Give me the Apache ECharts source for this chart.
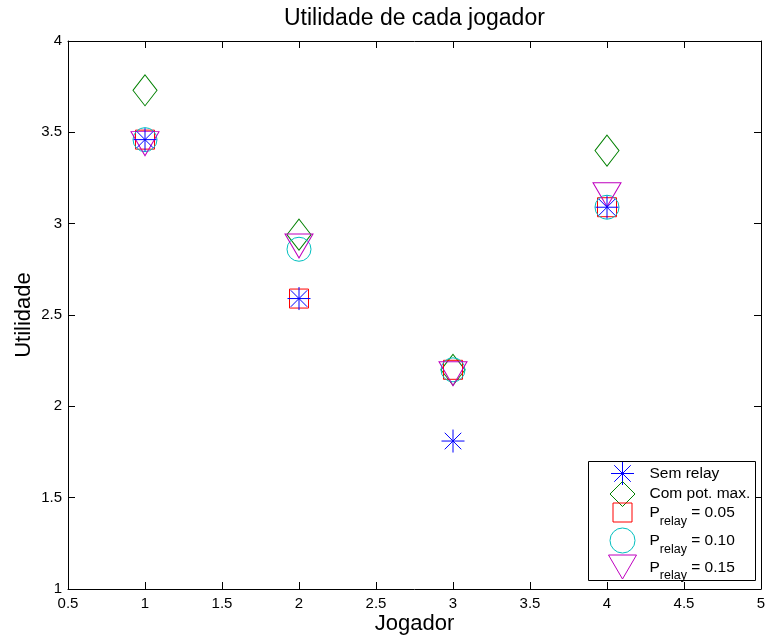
<!DOCTYPE html>
<html>
<head>
<meta charset="utf-8">
<script src="https://cdn.jsdelivr.net/npm/echarts@6/dist/echarts.min.js"></script>
<style>
  html, body { margin: 0; padding: 0; background: #fff; }
  #chart { width: 765px; height: 638px; }
</style>
</head>
<body>
<div id="chart"></div>
<script>
// Utilidade de cada jogador (players 1-4) under each power/relay scheme
const jogadores = [1, 2, 3, 4];
const semRelay  = [3.46, 2.59, 1.81, 3.09];
const comPotMax = [3.73, 2.94, 2.20, 3.40];
const pRelay005 = [3.46, 2.59, 2.20, 3.09];
const pRelay010 = [3.46, 2.86, 2.20, 3.09];
const pRelay015 = [3.46, 2.90, 2.20, 3.18];

const seriesNames = ['Sem relay', 'Com pot. max.', 'P_relay = 0.05', 'P_relay = 0.10', 'P_relay = 0.15'];
const xRange = [0.5, 5];
const yRange = [1, 4];
const tickStep = 0.5;

const FONT = '"Liberation Sans", Arial, Helvetica, sans-serif';

// marker shapes (outline only)
const ASTERISK = 'path://M0,-1L0,1M-1,0L1,0M-0.72,-0.72L0.72,0.72M-0.72,0.72L0.72,-0.72';
const DIAMOND  = 'path://M12,0L24,15.5L12,31L0,15.5Z';
const SQUARE   = 'path://M0,0L1,0L1,1L0,1Z';
const TRI_DOWN = 'path://M0,0L28,0L14,24Z';

function toPoints(values) {
  return jogadores.map((j, i) => [j, values[i]]);
}

function markerSeries(name, values, symbol, size, color, extra) {
  return Object.assign({
    name: name,
    type: 'scatter',
    data: toPoints(values),
    symbol: symbol,
    symbolSize: size,
    itemStyle: { color: 'transparent', borderColor: color, borderWidth: 1, opacity: 1 },
    emphasis: { disabled: true },
    silent: true
  }, extra || {});
}

const series = [
  markerSeries(seriesNames[1], comPotMax, DIAMOND, [24, 31], '#008000', { z: 2 }),
  markerSeries(seriesNames[2], pRelay005, SQUARE, 19, '#ff0000', { z: 3 }),
  markerSeries(seriesNames[3], pRelay010, 'circle', 24, '#00bfbf', { z: 4 }),
  markerSeries(seriesNames[4], pRelay015, TRI_DOWN, [28, 24], '#bf00bf', { z: 5, symbolOffset: [0, 4] }),
  markerSeries(seriesNames[0], semRelay, ASTERISK, 23, '#0000ff', { z: 6 })
];

// legend rows: one legend per entry so each icon keeps its own size
const LEGEND_ICON_CX = 622;
const legendRows = [
  { name: seriesNames[0], cy: 473,   w: 23, h: 23, textH: 18 },
  { name: seriesNames[1], cy: 493.5, w: 25, h: 25, textH: 18, icon: 'path://M1,0L2,1L1,2L0,1Z' },
  { name: seriesNames[2], cy: 515,   w: 19, h: 19, textH: 25 },
  { name: seriesNames[3], cy: 540,   w: 25, h: 25, textH: 25 },
  { name: seriesNames[4], cy: 567,   w: 28, h: 24, textH: 25 }
];

function legendLabel(name) {
  const m = name.match(/^P_(\w+)(.*)$/);
  if (!m) return '{t|' + name + '}';
  return '{p|P}{s|' + m[1] + '}{p|' + m[2] + '}';
}

const legends = legendRows.map(r => ({
  data: [r.icon ? { name: r.name, icon: r.icon } : { name: r.name }],
  orient: 'vertical',
  left: LEGEND_ICON_CX - r.w / 2,
  top: r.cy - Math.max(r.h, r.textH) / 2,
  padding: 0,
  itemWidth: 44,
  itemHeight: r.h,
  selectedMode: false,
  z: 5,
  itemStyle: { borderWidth: 1 },
  formatter: legendLabel,
  textStyle: {
    fontFamily: FONT,
    color: '#000',
    fontSize: 15.5,
    rich: {
      t: { fontFamily: FONT, fontSize: 15.5, lineHeight: 18, color: '#000' },
      p: { fontFamily: FONT, fontSize: 15.5, lineHeight: 15, padding: [0, 0, 10, 0], verticalAlign: 'top', color: '#000' },
      s: { fontFamily: FONT, fontSize: 12.5, lineHeight: 13, padding: [10, 0, 2, 0], verticalAlign: 'top', color: '#000' }
    }
  }
}));

const axisLineStyle = { show: true, onZero: false, lineStyle: { color: '#000', width: 1 } };
const axisTickStyle = { show: true, inside: true, length: 7, lineStyle: { color: '#000', width: 1 } };
const tickLabelStyle = { fontFamily: FONT, fontSize: 15, color: '#000', hideOverlap: false };

const chart = echarts.init(document.getElementById('chart'), null, { renderer: 'canvas' });
chart.setOption({
  animation: false,
  backgroundColor: '#fff',
  title: {
    text: 'Utilidade de cada jogador',
    left: 284,
    top: 7,
    padding: 0,
    textStyle: { fontFamily: FONT, fontSize: 23, fontWeight: 'normal', color: '#000' }
  },
  grid: { left: 68, right: 4, top: 41, bottom: 49, containLabel: false, outerBoundsMode: 'none' },
  xAxis: [
    {
      type: 'value', min: xRange[0], max: xRange[1], interval: tickStep, position: 'bottom',
      axisLine: axisLineStyle, axisTick: axisTickStyle, splitLine: { show: false },
      axisLabel: Object.assign({ margin: 7 }, tickLabelStyle),
      name: 'Jogador', nameLocation: 'middle', nameGap: 24, nameMoveOverlap: false,
      nameTextStyle: { fontFamily: FONT, fontSize: 22, color: '#000' }
    },
    {
      type: 'value', min: xRange[0], max: xRange[1], interval: tickStep, position: 'top',
      axisLine: axisLineStyle, axisTick: axisTickStyle, splitLine: { show: false },
      axisLabel: { show: false }
    }
  ],
  yAxis: [
    {
      type: 'value', min: yRange[0], max: yRange[1], interval: tickStep, position: 'left',
      axisLine: axisLineStyle, axisTick: axisTickStyle, splitLine: { show: false },
      axisLabel: Object.assign({ margin: 6 }, tickLabelStyle),
      name: 'Utilidade', nameLocation: 'middle', nameGap: 33, nameMoveOverlap: false,
      nameTextStyle: { fontFamily: FONT, fontSize: 22, color: '#000' }
    },
    {
      type: 'value', min: yRange[0], max: yRange[1], interval: tickStep, position: 'right',
      axisLine: axisLineStyle, axisTick: axisTickStyle, splitLine: { show: false },
      axisLabel: { show: false }
    }
  ],
  legend: legends,
  graphic: [{
    type: 'rect',
    z: 3,
    shape: { x: 588.5, y: 461.5, width: 167, height: 119 },
    style: { fill: '#fff', stroke: '#000', lineWidth: 1 }
  }],
  series: series
});
</script>
</body>
</html>
